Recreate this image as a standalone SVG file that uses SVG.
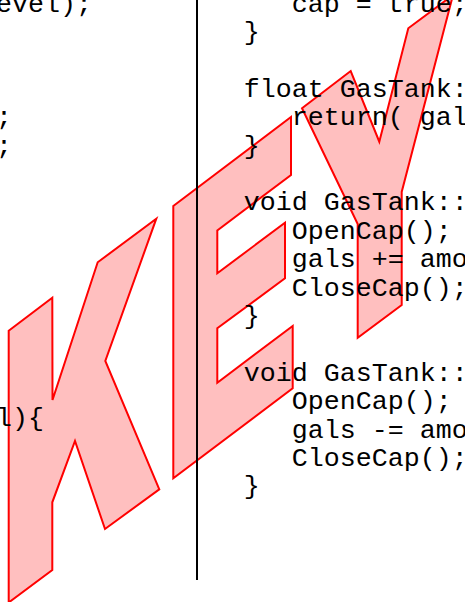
<svg xmlns="http://www.w3.org/2000/svg" width="465" height="602" viewBox="0 0 465 602">
<style>
.code{font-family:"Liberation Mono","Courier New",monospace;font-size:26.67px;fill:#000}
.key{fill:#ffbfbf;stroke:#ff0000;stroke-width:2;stroke-linejoin:miter}
</style>
<rect width="465" height="602" fill="#fff"/>
<g id="key">
<polygon id="letter-K" class="key" points="8.7,330.7 52.3,297.7 52.5,400 97.7,262.3 156.3,218.7 105.3,361 159.3,489.3 105,529 75,441 52.3,502.3 52.3,570 8.7,602.5"/>
<polygon id="letter-E" class="key" points="173.3,206 291,117 291,175 217.3,230.5 217.3,273.3 285,222.7 285,278.3 217.3,328.3 217.3,382.7 292.7,326 292.7,388.3 173.3,478.3"/>
<polygon id="letter-Y" class="key" points="302,108.3 350.7,71 379.3,141.7 408.3,28.3 453,-5 401.7,192 401.7,305 357.7,337.7 357.7,224"/>
</g>
<g id="divider">
<line x1="197" y1="0" x2="197" y2="580" stroke="#000" stroke-width="2"/>
</g>
<g id="code-left" class="code">
<text x="-4" y="11.5">evel);</text>
<text x="-4" y="125.1">;</text>
<text x="-4" y="153.5">;</text>
<text x="-4" y="426">l){</text>
</g>
<g id="code-right" class="code">
<text x="291.7" y="11.5">cap = true;</text>
<text x="243.7" y="39.9">}</text>
<text x="243.7" y="96.7">float GasTank::</text>
<text x="291.7" y="125.1">return( gal</text>
<text x="243.7" y="153.5">}</text>
<text x="243.7" y="210.3">void GasTank::</text>
<text x="291.7" y="238.7">OpenCap();</text>
<text x="291.7" y="267.1">gals += amo</text>
<text x="291.7" y="295.5">CloseCap();</text>
<text x="243.7" y="323.9">}</text>
<text x="243.7" y="380.7">void GasTank::</text>
<text x="291.7" y="409.1">OpenCap();</text>
<text x="291.7" y="437.5">gals -= amo</text>
<text x="291.7" y="465.9">CloseCap();</text>
<text x="243.7" y="494.3">}</text>
</g>
</svg>
